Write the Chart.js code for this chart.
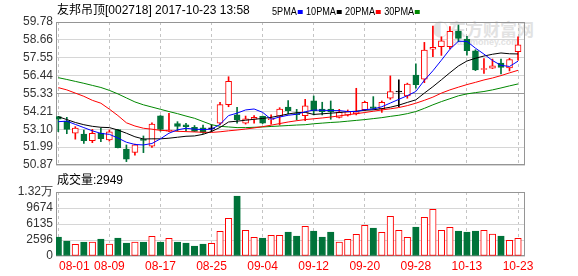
<!DOCTYPE html>
<html><head><meta charset="utf-8">
<script src="https://cdn.jsdelivr.net/npm/chart.js@4.4.0/dist/chart.umd.min.js"></script>
<style>
html,body{margin:0;padding:0;background:#fff;width:578px;height:276px;overflow:hidden;}
#wrap{position:relative;width:578px;height:276px;font-family:"Liberation Sans",Arial,"Noto Sans CJK SC",sans-serif;}
canvas{position:absolute;left:0;}
#pc{top:0;z-index:2;}
#vc{top:170px;z-index:3;}
.t{position:absolute;white-space:nowrap;font-size:12px;color:#000;line-height:14px;z-index:5;}
#legend{transform:scaleX(0.83);transform-origin:0 50%;}
#legend i{display:inline-block;width:6px;height:4px;margin:0 4px 0 1px;vertical-align:middle;}
#wm{position:absolute;left:432px;top:20px;z-index:1;color:#e2e2e2;font-family:"Noto Sans CJK SC",sans-serif;font-weight:bold;font-size:17px;line-height:18px;white-space:nowrap;}
#wm2{position:absolute;left:452px;top:37px;z-index:1;color:#e2e2e2;font-family:"Liberation Sans",sans-serif;font-weight:bold;font-size:9px;line-height:10px;white-space:nowrap;}
</style>
</head><body>
<div id="wrap">
  <div id="wm">◐东方财富网</div>
  <div id="wm2">eastmoney.com</div>
  <div class="t" id="title" style="left:57px;top:3px;"></div>
  <div class="t" id="legend" style="left:272px;top:4px;font-size:11px;"></div>
  <div class="t" id="vlabel" style="left:57px;top:173px;"></div>
  <canvas id="pc" width="578" height="182"></canvas>
  <canvas id="vc" width="578" height="106"></canvas>
</div>
<script>
// ---------------- data ----------------
const STOCK_NAME = '友邦吊顶';
const STOCK_CODE = '002718';
const TIMESTAMP = '2017-10-23 13:58';
const CURRENT_VOLUME = 2949;

const DATES = ['08-01','08-02','08-03','08-04','08-07','08-08','08-09','08-10','08-11','08-14',
'08-15','08-16','08-17','08-18','08-21','08-22','08-23','08-24','08-25','08-28',
'08-29','08-30','08-31','09-01','09-04','09-05','09-06','09-07','09-08','09-11',
'09-12','09-13','09-14','09-15','09-18','09-19','09-20','09-21','09-22','09-25',
'09-26','09-27','09-28','09-29','10-09','10-10','10-11','10-12','10-13','10-16',
'10-17','10-18','10-19','10-20','10-23'];

const OPEN  = [53.88,53.61,52.86,52.80,52.38,52.86,52.43,53.07,51.86,51.65,
52.45,52.05,53.93,52.98,53.45,53.38,53.22,53.19,53.12,53.47,
54.63,53.99,53.47,53.72,53.90,53.70,53.92,54.48,54.07,53.95,
54.87,54.36,54.36,53.84,53.97,54.05,54.32,54.50,54.36,55.03,
55.42,55.18,56.48,56.22,58.08,58.24,58.24,59.22,58.71,57.98,
56.82,56.90,57.22,56.92,57.93];
const CLOSE = [53.72,53.09,53.17,52.38,52.84,52.51,52.93,51.95,51.23,52.12,
52.40,53.42,53.08,53.03,53.28,53.26,52.97,52.90,53.12,54.63,
56.08,53.68,53.74,53.84,53.47,53.76,54.36,54.25,54.00,54.55,
54.25,54.20,54.20,54.15,54.20,54.18,54.78,54.40,54.78,55.44,
55.42,55.91,55.88,58.03,58.20,58.60,59.20,58.76,57.99,56.79,
56.88,57.05,56.95,57.44,58.35];
const HIGH  = [53.90,53.84,53.26,53.05,53.09,53.17,53.05,53.10,52.12,52.18,
52.68,53.50,53.95,54.09,53.57,53.47,53.33,53.36,53.38,54.78,
56.37,54.46,53.92,53.95,53.92,53.99,54.44,54.88,54.34,54.96,
55.17,54.78,54.86,54.34,54.30,55.65,54.84,55.13,54.86,56.42,
56.17,55.97,57.18,58.51,59.52,58.86,59.50,59.59,58.88,58.05,
57.50,57.47,57.47,57.52,58.86];
const LOW   = [52.95,52.82,52.48,52.22,52.26,52.32,52.36,51.93,51.08,51.49,
51.64,51.97,52.98,52.95,52.98,53.00,52.95,52.84,52.95,53.38,
54.50,53.47,53.42,53.47,53.45,53.41,53.36,54.05,53.67,53.63,
53.99,53.99,53.72,53.80,53.92,53.99,54.25,54.35,54.15,54.96,
54.50,55.03,55.65,56.00,57.62,57.70,58.10,58.55,57.72,56.75,
56.58,56.88,56.55,56.73,57.40];

const MA5  = [53.57,53.60,53.40,53.20,53.00,52.84,52.78,52.55,52.29,52.15,
52.12,52.21,52.50,52.85,53.06,53.16,53.10,53.08,53.10,53.40,
53.95,54.10,54.30,54.36,54.15,53.72,53.86,53.97,54.03,54.19,
54.29,54.28,54.26,54.26,54.20,54.20,54.32,54.36,54.50,54.73,
54.96,55.19,55.45,56.15,56.74,57.40,58.08,58.58,58.57,58.15,
57.78,57.38,57.08,57.01,57.34];
const MA10 = [53.88,53.70,53.52,53.38,53.28,53.22,53.20,53.05,52.85,52.63,
52.49,52.50,52.50,52.54,52.60,52.66,52.68,52.78,52.96,53.21,
53.55,53.60,53.66,53.72,53.77,53.84,53.94,54.05,54.13,54.15,
54.02,54.06,54.10,54.14,54.19,54.22,54.28,54.31,54.38,54.47,
54.60,54.77,54.93,55.35,55.75,56.18,56.62,57.04,57.35,57.52,
57.66,57.77,57.85,57.80,57.79];
const MA20 = [55.69,55.55,55.35,55.15,54.90,54.72,54.35,53.95,53.50,53.30,
53.16,53.10,53.03,53.00,52.97,52.95,52.93,52.91,52.90,52.94,
53.00,53.05,53.11,53.18,53.26,53.35,53.45,53.55,53.63,53.70,
53.75,53.80,53.86,53.93,54.00,54.07,54.14,54.22,54.30,54.37,
54.45,54.57,54.72,54.90,55.10,55.35,55.55,55.72,55.88,56.02,
56.17,56.29,56.44,56.61,56.77];
const MA30 = [56.31,56.20,56.08,55.96,55.83,55.70,55.52,55.30,55.05,54.80,
54.62,54.48,54.34,54.20,54.07,53.92,53.78,53.58,53.38,53.28,
53.24,53.20,53.20,53.22,53.24,53.27,53.30,53.33,53.36,53.38,
53.44,53.48,53.52,53.55,53.60,53.65,53.70,53.76,53.82,53.90,
53.97,54.07,54.20,54.40,54.62,54.82,55.00,55.18,55.30,55.38,
55.45,55.55,55.67,55.80,55.92];

const VOLUME = [3259,2374,1643,2153,2153,2817,1711,3038,1932,2153,
2153,3414,2153,2971,2153,1932,1268,1711,1858,4520,
7395,12328,4741,3193,3038,3635,3635,4365,3480,5626,
4586,3259,4365,2153,2750,3857,5847,5250,4299,7838,
4741,3193,5471,7617,9386,4741,5405,4586,4365,4586,
4741,3922,3480,2529,2949];

const PRICE_TICKS = [50.87,51.99,53.10,54.21,55.33,56.44,57.55,58.66,59.78];
const PRICE_MID_TICK = 55.33;
const VOL_TICKS = [-943,2596,6135,9674,13213];
const VOL_TICK_LABELS = ['0','2596','6135','9674','1.32万'];
const TICK_DATES = ['08-01','08-09','08-17','08-25','09-04','09-12','09-20','09-28','10-13','10-23'];
const MA_SERIES = [
  {name:'5PMA',  values:MA5,  color:'#0000ff'},
  {name:'10PMA', values:MA10, color:'#000000'},
  {name:'20PMA', values:MA20, color:'#ff0000'},
  {name:'30PMA', values:MA30, color:'#008800'}
];

// ---------------- styles ----------------
const RED = '#ff0000', GREEN = '#00733a', DOJI = '#000000';
const GRID = '#d6d6d6', VGRID = '#c4c4c4', FRAME = '#959595', MIDGRID = '#9a9a9a';
const X_MIN = -0.27, X_MAX = 54.82;
const FONT = {family:'"Liberation Sans", Arial, sans-serif', size:12};

document.getElementById('title').textContent = STOCK_NAME + '[' + STOCK_CODE + '] ' + TIMESTAMP;
document.getElementById('legend').innerHTML = MA_SERIES.map(s => s.name + '<i style="background:' + s.color + '"></i>').join('');
document.getElementById('vlabel').textContent = '成交量:' + CURRENT_VOLUME;

const idx = DATES.map((d, i) => i);
const tickIdx = TICK_DATES.map(d => DATES.indexOf(d));
function candleColor(i){ return CLOSE[i] > OPEN[i] ? RED : (CLOSE[i] < OPEN[i] ? GREEN : DOJI); }
function candleFill(i){ return CLOSE[i] > OPEN[i] ? '#ffffff' : candleColor(i); }
function volUp(i){ return CLOSE[i] >= OPEN[i]; }

const framePlugin = {
  id:'frame',
  beforeDatasetsDraw(chart){
    const a = chart.chartArea, c = chart.ctx;
    c.save(); c.strokeStyle = FRAME; c.lineWidth = 1;
    c.strokeRect(a.left + 0.5, a.top + 0.5, a.right - a.left - 1, a.bottom - a.top - 1);
    c.restore();
  }
};

const xCommon = {
  type:'linear', min:X_MIN, max:X_MAX, offset:false,
  afterBuildTicks: s => { s.ticks = tickIdx.map(v => ({value:v})); },
  ticks:{display:false},
  grid:{color:VGRID, drawTicks:false, lineWidth:1, offset:false},
  border:{display:false, dash:[3,3]}
};

Chart.defaults.font.family = FONT.family;
Chart.defaults.font.size = 12;

new Chart(document.getElementById('pc'), {
  type:'bar',
  data:{datasets:[
    ...MA_SERIES.map(s => ({
      type:'line', label:s.name, data:s.values.map((v,i)=>({x:i,y:v})),
      borderColor:s.color, borderWidth:1, pointRadius:0, tension:0, order:0
    })),
    { type:'bar', label:'body', data:idx.map(i=>({x:i,y:[OPEN[i],CLOSE[i]]})),
      backgroundColor:c=>candleFill(c.dataIndex), borderColor:c=>candleColor(c.dataIndex),
      borderWidth:1, borderSkipped:false, barThickness:6, minBarLength:1, grouped:false, order:1 },
    { type:'bar', label:'wick', data:idx.map(i=>({x:i,y:[LOW[i],HIGH[i]]})),
      backgroundColor:c=>candleColor(c.dataIndex), borderWidth:0, barThickness:1, grouped:false, order:2 }
  ]},
  options:{
    responsive:false, animation:false, devicePixelRatio:1,
    layout:{padding:{left:0, right:53, top:22, bottom:17}},
    plugins:{legend:{display:false}, tooltip:{enabled:false}},
    scales:{
      x: xCommon,
      y:{ min:PRICE_TICKS[0], max:PRICE_TICKS[PRICE_TICKS.length-1],
        afterBuildTicks: s => { s.ticks = PRICE_TICKS.map(v => ({value:v})); },
        afterFit: s => { s.width = 56; },
        ticks:{callback:v => Number(v).toFixed(2), color:'#333', padding:3, font:FONT, autoSkip:false},
        grid:{color:c => (c.tick && c.tick.value === PRICE_MID_TICK) ? MIDGRID : GRID, drawTicks:false},
        border:{display:false}
      }
    }
  },
  plugins:[framePlugin]
});

const dateLabelPlugin = {
  id:'dateLabels',
  afterDraw(chart){
    const c = chart.ctx, a = chart.chartArea, sx = chart.scales.x;
    c.save(); c.fillStyle = RED; c.font = '12px ' + FONT.family; c.textBaseline = 'middle';
    tickIdx.forEach((i, k) => {
      const t = TICK_DATES[k];
      const w = c.measureText(t).width;
      let left = sx.getPixelForValue(i) - w / 2;
      if (left < a.left + 3) left = a.left + 3;
      c.fillText(t, left, a.bottom + 11);
    });
    c.restore();
  }
};

new Chart(document.getElementById('vc'), {
  type:'bar',
  data:{datasets:[{
    label:'volume', data:idx.map(i=>({x:i,y:VOLUME[i]})), base:VOL_TICKS[0],
    backgroundColor:c => volUp(c.dataIndex) ? '#ffffff' : GREEN,
    borderColor:c => volUp(c.dataIndex) ? RED : GREEN,
    borderWidth:1, borderSkipped:false, barThickness:6.5, grouped:false
  }]},
  options:{
    responsive:false, animation:false, devicePixelRatio:1,
    layout:{padding:{left:0, right:53, top:22, bottom:20}},
    plugins:{legend:{display:false}, tooltip:{enabled:false}},
    scales:{
      x: xCommon,
      y:{ min:VOL_TICKS[0], max:VOL_TICKS[VOL_TICKS.length-1],
        afterBuildTicks: s => { s.ticks = VOL_TICKS.map(v => ({value:v})); },
        afterFit: s => { s.width = 56; },
        ticks:{callback:(v,k) => VOL_TICK_LABELS[k], color:'#333', padding:3, font:FONT, autoSkip:false},
        grid:{color:GRID, drawTicks:false},
        border:{display:false}
      }
    }
  },
  plugins:[framePlugin, dateLabelPlugin]
});
</script>
</body></html>
